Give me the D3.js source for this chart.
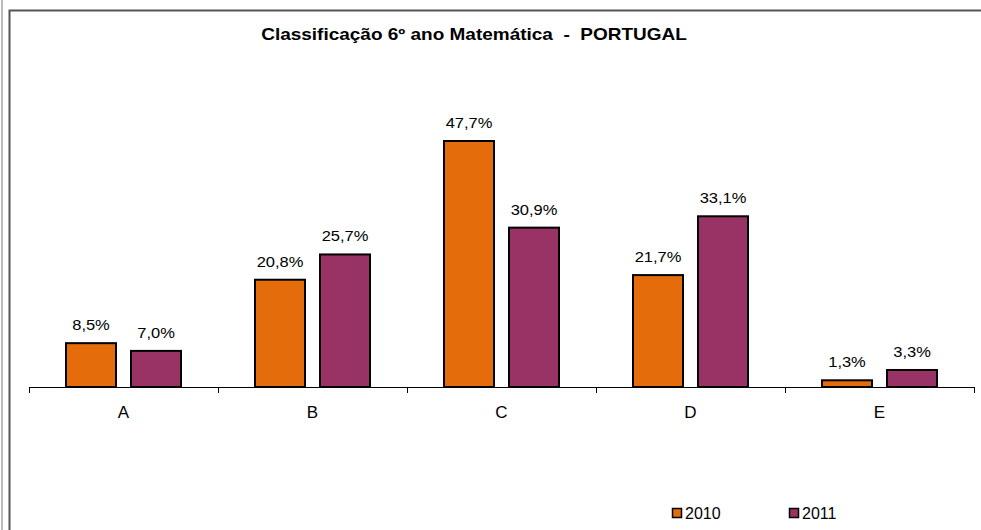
<!DOCTYPE html>
<html>
<head>
<meta charset="utf-8">
<script src="https://cdn.jsdelivr.net/npm/d3@7"></script>
<style>
  html, body { margin: 0; padding: 0; background: #fff; overflow: hidden; }
  svg { display: block; }
  text { font-family: "Liberation Sans", Arial, sans-serif; fill: #000; }
</style>
</head>
<body>
<div id="chart"></div>
<script>
// data
const categories = ["A", "B", "C", "D", "E"];
const seriesNames = ["2010", "2011"];
const values2010 = [8.5, 20.8, 47.7, 21.7, 1.3];
const values2011 = [7.0, 25.7, 30.9, 33.1, 3.3];
const colors = ["#E46C0A", "#993366"];

const width = 981, height = 530;
const axisY = 387;

const svg = d3.select("#chart").append("svg")
  .attr("width", width)
  .attr("height", height);

// outer frame lines (only top and left edges are inside the picture)
svg.append("line")
  .attr("x1", 2).attr("x2", 2).attr("y1", 0).attr("y2", height)
  .attr("stroke", "#777").attr("stroke-width", 1);
svg.append("path")
  .attr("d", `M9.5,${height} V10.5 H${width}`)
  .attr("fill", "none")
  .attr("stroke", "#555").attr("stroke-width", 2);

// title, stretched to the width seen in the reference
const title = svg.append("text")
  .attr("transform", "translate(474,40)")
  .attr("text-anchor", "middle")
  .attr("xml:space", "preserve")
  .style("font-size", "16px")
  .style("font-weight", "bold")
  .text("Classificação 6º ano Matemática  -  PORTUGAL");
const tw = title.node().getComputedTextLength();
title.attr("transform", `translate(474,40) scale(${426 / tw},1)`);

const x = d3.scaleBand().domain(categories).range([29, 974]);
const xs = d3.scaleBand().domain(seriesNames).range([37, 152]).paddingInner(0.2308);
const y = d3.scaleLinear().domain([0, 47.7]).range([axisY, 141]);

const rows = categories.map((c, i) => ({ cat: c, vals: [values2010[i], values2011[i]] }));

const groups = svg.selectAll(".grp").data(rows).enter().append("g")
  .attr("class", "grp")
  .attr("transform", d => `translate(${x(d.cat)},0)`);

groups.selectAll("rect").data(d => d.vals.map((v, j) => ({ v, s: seriesNames[j], j })))
  .enter().append("rect")
  .attr("x", d => xs(d.s))
  .attr("y", d => y(d.v))
  .attr("width", xs.bandwidth())
  .attr("height", d => axisY - y(d.v))
  .attr("fill", d => colors[d.j])
  .attr("stroke", "#000")
  .attr("stroke-width", 2);

groups.selectAll("text.val").data(d => d.vals.map((v, j) => ({ v, s: seriesNames[j], j })))
  .enter().append("text")
  .attr("class", "val")
  .attr("transform", d => `translate(${xs(d.s) + xs.bandwidth() / 2},${y(d.v) - 13}) scale(1.1,1)`)
  .attr("text-anchor", "middle")
  .style("font-size", "15px")
  .text(d => d.v.toFixed(1).replace(".", ",") + "%");

// axis
const axis = svg.append("g");
axis.append("line")
  .attr("x1", 29).attr("x2", 974).attr("y1", axisY + 0.5).attr("y2", axisY + 0.5)
  .attr("stroke", "#000");
const tickXs = categories.map(c => x(c)).concat([x.range()[1]]);
axis.selectAll(".tick").data(tickXs).enter().append("line")
  .attr("x1", d => Math.round(d) + 0.5).attr("x2", d => Math.round(d) + 0.5)
  .attr("y1", axisY).attr("y2", axisY + 6)
  .attr("stroke", "#000");
axis.selectAll(".lab").data(categories).enter().append("text")
  .attr("x", d => x(d) + x.bandwidth() / 2)
  .attr("y", 418)
  .attr("text-anchor", "middle")
  .style("font-size", "17px")
  .text(d => d);

// legend
const legendX = [672, 789];
const legend = svg.selectAll(".leg").data(seriesNames).enter().append("g")
  .attr("transform", (d, i) => `translate(${legendX[i]},508)`);
legend.append("rect")
  .attr("x", 0.5).attr("y", 0.5).attr("width", 9).attr("height", 9)
  .attr("fill", (d, i) => colors[i])
  .attr("stroke", "#000").attr("stroke-width", 1.5);
legend.append("text")
  .attr("x", 13).attr("y", 11)
  .style("font-size", "16px")
  .text(d => d);
</script>
</body>
</html>
